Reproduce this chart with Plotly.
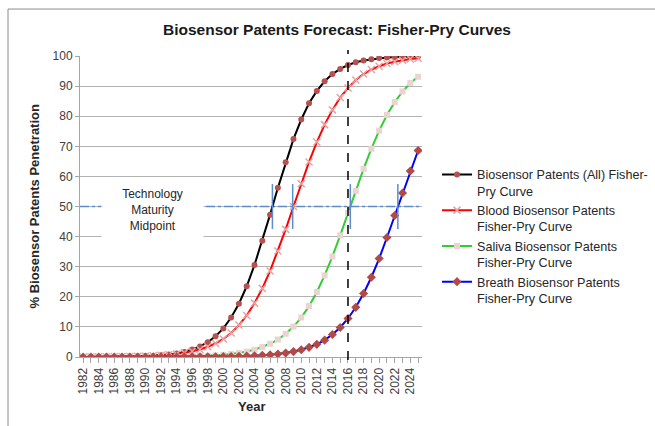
import plotly.graph_objects as go

# ---------------- data ----------------
years = list(range(1982, 2026))

all_patents = [0.02, 0.02, 0.03, 0.05, 0.07, 0.10, 0.15, 0.21, 0.30, 0.42,
               0.60, 0.86, 1.2, 1.7, 2.5, 3.5, 4.9, 6.9, 9.5, 13.1,
               17.7, 23.5, 30.6, 38.6, 47.3, 56.2, 64.7, 72.4, 78.9, 84.3,
               88.4, 91.6, 94.0, 95.7, 97.0, 97.9, 98.5, 98.9, 99.3, 99.5,
               99.6, 99.7, 99.8, 99.9]

blood = [0.03, 0.04, 0.05, 0.07, 0.09, 0.12, 0.17, 0.22, 0.30, 0.41,
         0.56, 0.75, 1.0, 1.4, 1.9, 2.5, 3.4, 4.5, 6.0, 8.0,
         10.6, 13.8, 17.9, 22.8, 28.6, 35.2, 42.4, 50.0, 57.6, 64.8,
         71.4, 77.2, 82.1, 86.2, 89.4, 92.0, 94.0, 95.5, 96.6, 97.5,
         98.1, 98.6, 99.0, 99.25]

saliva = [0.003, 0.005, 0.006, 0.008, 0.011, 0.015, 0.02, 0.03, 0.04, 0.05,
          0.07, 0.09, 0.12, 0.17, 0.23, 0.31, 0.41, 0.55, 0.75, 1.0,
          1.35, 1.8, 2.4, 3.3, 4.4, 5.8, 7.7, 10.1, 13.1, 16.9,
          21.6, 27.1, 33.4, 40.4, 47.8, 55.2, 62.5, 69.2, 75.2, 80.4,
          84.7, 88.2, 91.0, 93.1]

breath = [0.0005, 0.0007, 0.001, 0.0013, 0.0018, 0.0024, 0.0033, 0.0045, 0.006, 0.008,
          0.011, 0.015, 0.02, 0.027, 0.036, 0.049, 0.066, 0.089, 0.12, 0.16,
          0.22, 0.30, 0.40, 0.54, 0.73, 0.98, 1.3, 1.8, 2.4, 3.2,
          4.2, 5.6, 7.5, 9.8, 12.8, 16.5, 21.1, 26.5, 32.7, 39.7,
          47.0, 54.5, 61.8, 68.6]

series_names = [
    "Biosensor Patents (All) Fisher-<br>Pry Curve",
    "Blood Biosensor Patents<br>Fisher-Pry Curve",
    "Saliva Biosensor Patents<br>Fisher-Pry Curve",
    "Breath Biosensor Patents<br>Fisher-Pry Curve",
]

midpoint_years = [2006.3, 2008.9, 2016.3, 2022.4]
midpoint_values = [50, 50, 50, 50]
maturity_level = 50
current_year = 2016

y_ticks = list(range(0, 101, 10))
x_tick_labels = list(range(1982, 2025, 2))

# ---------------- figure ----------------
FONT = "Liberation Sans, Arial, sans-serif"
x_range = [1981.6, 2025.5]

fig = go.Figure()

# maturity midpoint horizontal line
fig.add_trace(go.Scatter(
    x=x_range, y=[maturity_level, maturity_level], mode="lines",
    line=dict(color="#5B8CCB", width=1.5, dash="dashdot"),
    showlegend=False, hoverinfo="skip"))

fig.add_trace(go.Scatter(
    x=years, y=all_patents, name=series_names[0], mode="lines+markers",
    line=dict(color="#000000", width=2),
    marker=dict(symbol="circle", size=6, color="#B5514E")))

fig.add_trace(go.Scatter(
    x=years, y=blood, name=series_names[1], mode="lines+markers",
    line=dict(color="#FF0000", width=2),
    marker=dict(symbol="x-thin", size=7, color="#E8A2A2",
                line=dict(color="#E8A2A2", width=1.5))))

fig.add_trace(go.Scatter(
    x=years, y=saliva, name=series_names[2], mode="lines+markers",
    line=dict(color="#33CC33", width=2),
    marker=dict(symbol="square", size=6, color="#EBD3D3")))

fig.add_trace(go.Scatter(
    x=years, y=breath, name=series_names[3], mode="lines+markers",
    line=dict(color="#0000FF", width=2),
    marker=dict(symbol="diamond", size=7, color="#B04A47")))

# midpoint markers (short vertical ticks)
fig.add_trace(go.Scatter(
    x=midpoint_years, y=midpoint_values, mode="markers",
    marker=dict(symbol="line-ns", size=32, color="#5B8CCB",
                line=dict(color="#5B8CCB", width=1.5)),
    showlegend=False, hoverinfo="skip", cliponaxis=False))

# current year dashed line
fig.add_shape(type="line", xref="x", yref="paper",
              x0=current_year, x1=current_year, y0=-0.01, y1=1.02,
              line=dict(color="#000000", width=1.5, dash="dash"))

# chart frame
fig.add_shape(type="rect", xref="paper", yref="paper",
              x0=-0.2105, x1=1.75, y0=-0.25, y1=1.156,
              line=dict(color="#8C8C8C", width=1), fillcolor="rgba(0,0,0,0)",
              layer="below")

# text box
fig.add_annotation(
    x=1990.9, y=48.9, xref="x", yref="y",
    text="Technology<br>Maturity<br>Midpoint", showarrow=False,
    font=dict(family=FONT, size=12, color="#262626"),
    bgcolor="#FFFFFF", width=99, height=56, align="center", valign="middle")

# axis titles
fig.add_annotation(
    x=-0.1316, y=0.5, xref="paper", yref="paper", textangle=-90,
    xanchor="center", yanchor="middle",
    text="<b>% Biosensor Patents Penetration</b>", showarrow=False,
    font=dict(family=FONT, size=13, color="#262626"))
fig.add_annotation(
    x=0.5, y=-0.163, xref="paper", yref="paper",
    xanchor="center", yanchor="middle",
    text="<b>Year</b>", showarrow=False,
    font=dict(family=FONT, size=13, color="#262626"))

fig.update_layout(
    width=655, height=426,
    margin=dict(l=80, r=233, t=56, b=69, autoexpand=False),
    paper_bgcolor="#FFFFFF", plot_bgcolor="#FFFFFF",
    font=dict(family=FONT, size=12, color="#404040"),
    title=dict(text="<b>Biosensor Patents Forecast: Fisher-Pry Curves</b>",
               x=0.5145, xref="container", xanchor="center",
               y=0.93, yref="container", yanchor="middle",
               font=dict(family=FONT, size=15.5, color="#1A1A1A")),
    legend=dict(x=0.6672, xref="container", y=0.6555, yref="paper",
                xanchor="left", yanchor="top",
                font=dict(family=FONT, size=12.6, color="#262626"),
                valign="top", tracegroupgap=9, bgcolor="rgba(0,0,0,0)"),
    xaxis=dict(range=x_range, tickmode="array", tickvals=x_tick_labels,
               ticktext=[str(v) for v in x_tick_labels], tickangle=-90,
               showgrid=False, zeroline=False, showline=True,
               linecolor="#A6A6A6", linewidth=1,
               ticks="outside", ticklen=5, tickcolor="#A6A6A6",
               minor=dict(tickmode="array", tickvals=years, ticks="outside",
                          ticklen=5, tickcolor="#A6A6A6", showgrid=False),
               tickfont=dict(family=FONT, size=12, color="#404040")),
    yaxis=dict(range=[0, 100], tickmode="array", tickvals=y_ticks,
               showgrid=True, gridcolor="#B3B3B3", gridwidth=1,
               zeroline=False, showline=True, linecolor="#A6A6A6", linewidth=1,
               ticks="outside", ticklen=4, tickcolor="#A6A6A6",
               tickfont=dict(family=FONT, size=12, color="#404040")),
)

fig.write_html("out.html")
